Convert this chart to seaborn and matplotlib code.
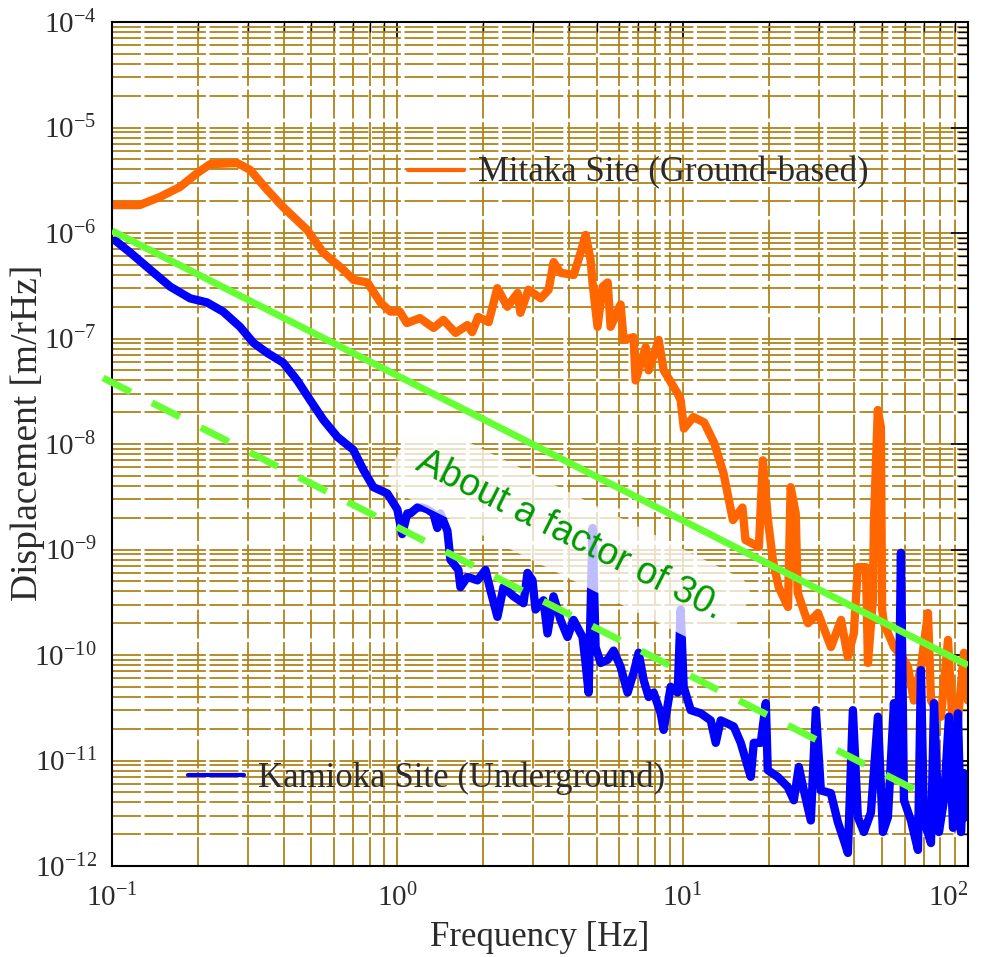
import matplotlib
matplotlib.use("Agg")
import matplotlib.pyplot as plt
import numpy as np
import pandas as pd
import seaborn as sns
from matplotlib.lines import Line2D
from matplotlib.ticker import LogLocator, NullFormatter

sns.set_style("white")
plt.rcParams["font.family"] = ["Liberation Serif", "DejaVu Serif"]
plt.rcParams["mathtext.fontset"] = "custom"
plt.rcParams["mathtext.rm"] = "Liberation Serif"
plt.rcParams["axes.unicode_minus"] = False

# Mitaka site (ground-based) spectrum
mitaka_freq = [0.101, 0.125, 0.147, 0.173, 0.199, 0.221, 0.275, 0.305, 0.350, 0.398,
               0.483, 0.550, 0.646, 0.701, 0.785, 0.872, 0.945, 1.02, 1.08, 1.20,
               1.34, 1.45, 1.60, 1.76, 1.83, 1.92, 2.09, 2.24, 2.43, 2.64,
               2.70, 2.88, 3.18, 3.39, 3.53, 3.73, 4.15, 4.39, 4.57, 4.76,
               4.83, 5.03, 5.24, 5.46, 5.59, 6.06, 6.21, 6.73, 6.84, 7.42,
               7.60, 8.24, 8.58, 9.61, 9.84, 10.1, 10.9, 11.9, 12.9, 13.9,
               15.0, 16.2, 16.6, 18.5, 19.1, 19.9, 20.7, 21.7, 23.4, 23.9,
               24.9, 25.3, 27.5, 29.8, 33.1, 35.9, 37.9, 39.8, 41.1, 43.9,
               44.6, 46.4, 46.8, 48.3, 49.5, 50.0, 50.7, 55.0, 58.2, 61.6,
               64.6, 68.4, 72.4, 74.2, 80.4, 85.1, 88.6, 90.8, 93.0, 96.8, 100.0]
mitaka_disp = [1.84e-6, 1.84e-6, 2.19e-6, 2.73e-6, 3.70e-6, 4.50e-6, 4.60e-6, 3.96e-6, 2.56e-6, 1.76e-6,
               1.07e-6, 6.5e-7, 4.5e-7, 3.6e-7, 3.4e-7, 2.2e-7, 1.8e-7, 1.8e-7, 1.4e-7, 1.56e-7,
               1.26e-7, 1.50e-7, 1.13e-7, 1.34e-7, 1.15e-7, 1.60e-7, 1.43e-7, 3.0e-7, 2.0e-7, 2.7e-7,
               1.75e-7, 2.9e-7, 2.4e-7, 2.9e-7, 5.3e-7, 4.2e-7, 4.0e-7, 6.5e-7, 9.6e-7, 5.5e-7,
               3.4e-7, 1.29e-7, 3.1e-7, 3.4e-7, 1.29e-7, 2.1e-7, 9.7e-8, 1.03e-7, 4.0e-8, 8.3e-8,
               5.0e-8, 9.7e-8, 5.0e-8, 3.0e-8, 2.6e-8, 1.4e-8, 1.8e-8, 1.6e-8, 1.02e-8, 5.3e-9,
               1.9e-9, 2.5e-9, 1.23e-9, 1.06e-9, 7.0e-9, 1.9e-9, 8.0e-10, 4.4e-10, 2.85e-10, 3.9e-9,
               2.2e-9, 3.9e-10, 2.0e-10, 2.5e-10, 1.19e-10, 2.15e-10, 9.6e-11, 1.6e-10, 6.8e-10, 6.8e-10,
               8.4e-11, 3.3e-10, 1.8e-9, 2.1e-8, 1.45e-8, 2.7e-10, 2.0e-10, 1.19e-10, 1.0e-10, 7.7e-11,
               3.7e-11, 7.7e-11, 2.5e-10, 3.7e-11, 2.6e-11, 1.39e-10, 1.8e-11, 1.34e-11, 3.2e-11, 1.05e-10, 3.7e-11]

# Kamioka site (underground) spectrum
kamioka_freq = [0.1026, 0.116, 0.136, 0.160, 0.188, 0.215, 0.245, 0.281, 0.313, 0.350,
                0.398, 0.446, 0.495, 0.550, 0.616, 0.701, 0.760, 0.824, 0.922, 1.00,
                1.04, 1.084, 1.111, 1.175, 1.224, 1.274, 1.337, 1.381, 1.416, 1.498,
                1.535, 1.637, 1.664, 1.760, 1.909, 2.037, 2.12, 2.243, 2.355, 2.553,
                2.768, 2.859, 2.976, 3.05, 3.253, 3.36, 3.527, 3.732, 3.95, 4.145,
                4.458, 4.567, 4.68, 4.834, 4.952, 5.157, 5.456, 5.727, 6.061, 6.412,
                6.732, 7.008, 7.298, 7.60, 7.912, 8.375, 8.577, 9.078, 9.605, 9.84,
                10.08, 10.67, 11.57, 12.54, 13.06, 13.59, 15.1, 15.98, 16.91, 17.33,
                17.75, 18.78, 19.56, 19.87, 21.54, 23.36, 24.52, 25.53, 26.59, 28.13,
                29.29, 30.5, 33.06, 34.99, 36.71, 37.93, 39.5, 41.11, 43.16, 45.67,
                48.34, 50.32, 52.4, 55.01, 56.81, 58.21, 59.64, 63.1, 66.78, 68.41,
                70.08, 74.17, 76.0, 79.1, 82.38, 85.77, 88.62, 92.2, 94.5, 96.83, 98.4]
kamioka_disp = [8.5e-7, 6.5e-7, 4.5e-7, 3.1e-7, 2.4e-7, 2.2e-7, 1.8e-7, 1.29e-7, 9.1e-8, 7.3e-8,
                5.9e-8, 4.0e-8, 2.6e-8, 1.7e-8, 1.17e-8, 8.8e-9, 5.7e-9, 3.9e-9, 3.4e-9, 2.4e-9,
                1.4e-9, 2.2e-9, 2.2e-9, 2.5e-9, 2.5e-9, 2.4e-9, 2.2e-9, 1.6e-9, 2.2e-9, 1.5e-9,
                8.0e-10, 6.4e-10, 4.4e-10, 5.5e-10, 5.1e-10, 6.4e-10, 4.1e-10, 2.3e-10, 4.4e-10, 3.6e-10,
                3.1e-10, 6.0e-10, 5.1e-10, 2.7e-10, 3.3e-10, 1.6e-10, 3.6e-10, 2.15e-10, 1.48e-10, 2.15e-10,
                1.48e-10, 8.4e-11, 4.4e-11, 1.6e-9, 1.19e-10, 8.4e-11, 9.0e-11, 1.1e-10, 7.7e-11, 4.4e-11,
                6.8e-11, 1.05e-10, 5.8e-11, 4.0e-11, 4.4e-11, 2.8e-11, 1.95e-11, 5.0e-11, 4.4e-11, 2.7e-10,
                5.0e-11, 3.0e-11, 2.8e-11, 2.4e-11, 1.47e-11, 2.4e-11, 2.1e-11, 1.47e-11, 8.7e-12, 7.0e-12,
                1.47e-11, 1.47e-11, 3.5e-11, 8.1e-12, 7.0e-12, 5.6e-12, 4.2e-12, 8.7e-12, 5.2e-12, 2.7e-12,
                3.0e-11, 5.2e-12, 4.9e-12, 2.6e-12, 1.76e-12, 1.33e-12, 3.0e-11, 2.9e-12, 2.1e-12, 3.2e-12,
                2.6e-11, 2.1e-12, 2.9e-12, 3.5e-11, 6.8e-12, 9.3e-10, 4.2e-12, 2.7e-12, 1.42e-12, 7.2e-11,
                2.7e-12, 1.65e-12, 3.5e-11, 2.1e-12, 4.2e-12, 2.6e-11, 2.3e-12, 2.8e-11, 2.1e-12, 7.6e-12, 2.9e-12]

# guide lines (factor of ~30 apart)
upper_freq = [0.1, 100.0]
upper_disp = [1.05e-6, 8.0e-11]
lower_freq = [0.093, 74.2]
lower_disp = [4.23e-8, 4.42e-12]

mitaka = pd.DataFrame({"freq": mitaka_freq, "disp": mitaka_disp})
kamioka = pd.DataFrame({"freq": kamioka_freq, "disp": kamioka_disp})

text_col = "#2b2b2b"
fig = plt.figure(figsize=(9.86, 9.57), dpi=100)
ax = fig.add_axes([112 / 986, 1 - 866 / 957, 856 / 986, 844 / 957])
ax.set_xscale("log")
ax.set_yscale("log")

sns.lineplot(data=mitaka, x="freq", y="disp", ax=ax, color="#ff6600", linewidth=6,
             estimator=None, sort=False, legend=False, zorder=2.1)
sns.lineplot(data=kamioka, x="freq", y="disp", ax=ax, color="#0000ff", linewidth=6,
             estimator=None, sort=False, legend=False, zorder=2.2)

ax.plot(upper_freq, upper_disp, color="#66ff33", linewidth=5, solid_capstyle="butt", zorder=3)
dl, = ax.plot(lower_freq, lower_disp, color="#66ff33", linewidth=5, dash_capstyle="butt",
              clip_on=False, zorder=3)
dl.set_dashes((4.5, 3.4))

ax.set_xlim(0.1, 100)
ax.set_ylim(1e-12, 1e-4)

ax.xaxis.set_major_locator(LogLocator(base=10, numticks=20))
ax.yaxis.set_major_locator(LogLocator(base=10, numticks=20))
ax.xaxis.set_minor_locator(LogLocator(base=10, subs=np.arange(2, 10), numticks=100))
ax.yaxis.set_minor_locator(LogLocator(base=10, subs=np.arange(2, 10), numticks=100))
ax.xaxis.set_minor_formatter(NullFormatter())
ax.yaxis.set_minor_formatter(NullFormatter())

ax.set_axisbelow(True)
ax.grid(True, which="both", color="#b08418", linewidth=1.3, linestyle=(0, (16, 2)))

ax.tick_params(which="both", direction="in", top=True, right=True, color="black",
               labelcolor=text_col, labelsize=21)
ax.tick_params(which="major", length=12, width=1.2)
ax.tick_params(which="minor", length=7, width=1.0)
ax.tick_params(axis="x", which="major", pad=13)
ax.tick_params(axis="y", which="major", pad=11)
for s in ax.spines.values():
    s.set_color("black")
    s.set_linewidth(1.5)

ax.set_xlabel("Frequency [Hz]", fontsize=25, color=text_col, labelpad=6)
ax.set_ylabel("Displacement [m/rHz]", fontsize=27, color=text_col)
ax.yaxis.set_label_coords(-0.078, 0.513)

# keep the 10^2 tick label inside the figure
fig.canvas.draw()
for tick in ax.xaxis.get_major_ticks():
    if np.isclose(tick.get_loc(), 100.0):
        tick.label1.set_horizontalalignment("right")
        tick.label1.set_x(104.0)

h1 = Line2D([], [], color="#ff6600", linewidth=3)
h2 = Line2D([], [], color="#0000ff", linewidth=3)
leg1 = ax.legend([h1], ["Mitaka Site (Ground-based)"], loc="center left",
                 bbox_to_anchor=(0.346, 0.821), frameon=False, fontsize=25,
                 handlelength=1.6, handletextpad=0.4, borderpad=0, borderaxespad=0,
                 labelcolor=text_col)
ax.add_artist(leg1)
ax.legend([h2], ["Kamioka Site (Underground)"], loc="center left",
          bbox_to_anchor=(0.089, 0.104), frameon=False, fontsize=25,
          handlelength=1.6, handletextpad=0.4, borderpad=0, borderaxespad=0,
          labelcolor=text_col)

ax.text(4.0, 1.36e-9, "About a factor of 30.", rotation=-26.5, rotation_mode="anchor",
        ha="center", va="center", fontsize=27, color="#009900",
        family=["Liberation Sans", "DejaVu Sans"],
        bbox=dict(boxstyle="round,pad=0.55", fc="white", ec="none", alpha=0.75), zorder=5)

plt.savefig("out.png", dpi=100)
